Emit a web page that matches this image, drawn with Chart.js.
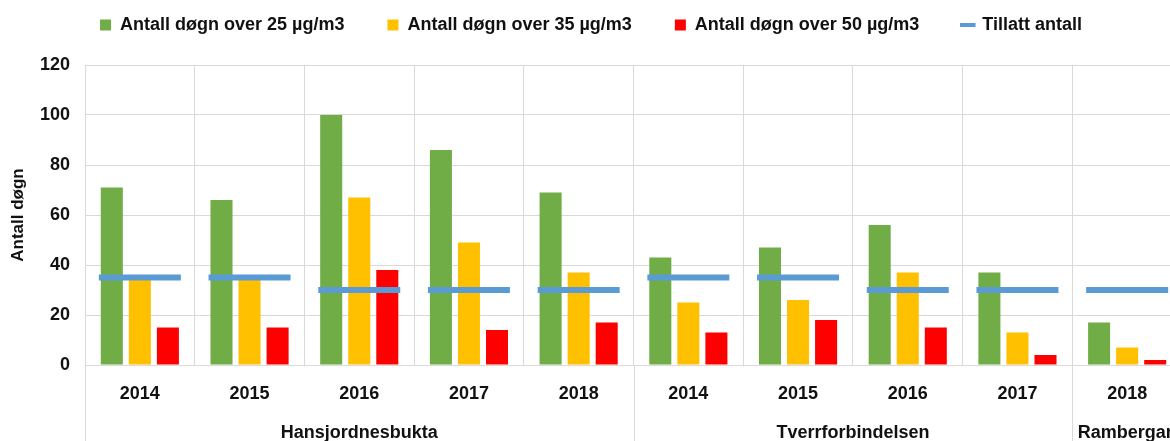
<!DOCTYPE html>
<html>
<head>
<meta charset="utf-8">
<script src="https://cdn.jsdelivr.net/npm/chart.js@4"></script>
<style>
    html, body { margin: 0; padding: 0; background: #fff; overflow: hidden; }
    #wrap { position: relative; width: 1182px; height: 460px; }
</style>
</head>
<body>
<div id="wrap"><canvas id="pmChart"></canvas></div>
<script>
var years = ['2014', '2015', '2016', '2017', '2018', '2014', '2015', '2016', '2017', '2018'];
var groupNames = ['Hansjordnesbukta', 'Tverrforbindelsen', 'Rambergan'];
var groupSizes = [5, 4, 1];
var seriesNames = ['Antall døgn over 25 µg/m3', 'Antall døgn over 35 µg/m3', 'Antall døgn over 50 µg/m3', 'Tillatt antall'];
var over25 = [71, 66, 100, 86, 69, 43, 47, 56, 37, 17];
var over35 = [35, 35, 67, 49, 37, 25, 26, 37, 13, 7];
var over50 = [15, 15, 38, 14, 17, 13, 18, 15, 4, 2];
var allowed = [35, 35, 30, 30, 30, 35, 35, 30, 30, 30];
var yTicks = [0, 20, 40, 60, 80, 100, 120];

var FONT = "'Liberation Sans', Arial, sans-serif";
Chart.defaults.font.family = FONT;
Chart.defaults.font.weight = 'bold';
Chart.defaults.font.size = 18;
Chart.defaults.color = '#111';

// the wide dash markers should not push the plot area in from the edges
Chart.LineController.prototype.getMaxOverflow = function() { return 0; };

// group labels under the years and the long separator lines
var groupLabels = {
    id: 'groupLabels',
    afterDraw: function(chart) {
        var xs = chart.scales.x;
        var area = chart.chartArea;
        var ctx = chart.ctx;
        var start = 0;
        ctx.save();
        ctx.strokeStyle = '#d9d9d9';
        ctx.lineWidth = 1;
        ctx.fillStyle = '#111';
        ctx.font = 'bold 18px ' + FONT;
        ctx.textAlign = 'center';
        ctx.textBaseline = 'middle';
        groupSizes.forEach(function(size, g) {
            var last = start + size - 1;
            var left = start === 0 ? area.left : (xs.getPixelForValue(start - 1) + xs.getPixelForValue(start)) / 2;
            var right = last + 1 < years.length ? (xs.getPixelForValue(last) + xs.getPixelForValue(last + 1)) / 2 : area.right;
            var lx = Math.round(left) + 0.5;
            ctx.beginPath();
            ctx.moveTo(lx, area.bottom);
            ctx.lineTo(lx, chart.height);
            ctx.stroke();
            ctx.fillText(groupNames[g], (left + right) / 2, area.bottom + 68);
            start += size;
        });
        ctx.restore();
    }
};

// fixed legend height so the plot starts at the right place
var legendHeight = {
    id: 'legendHeight',
    beforeInit: function(chart) {
        var fit = chart.legend.fit;
        chart.legend.fit = function() {
            fit.bind(chart.legend)();
            this.height = 92;
        };
    }
};

var ctx = document.getElementById('pmChart').getContext('2d');
var pmChart = new Chart(ctx, {
    type: 'bar',
    data: {
        labels: years,
        datasets: [{
            label: seriesNames[0],
            data: over25,
            backgroundColor: '#70AD47',
            pointStyle: 'rect',
            order: 1
        }, {
            label: seriesNames[1],
            data: over35,
            backgroundColor: '#FFC000',
            pointStyle: 'rect',
            order: 1
        }, {
            label: seriesNames[2],
            data: over50,
            backgroundColor: '#FF0000',
            pointStyle: 'rect',
            order: 1
        }, {
            type: 'line',
            label: seriesNames[3],
            data: allowed,
            showLine: false,
            borderColor: '#5B9BD5',
            backgroundColor: '#5B9BD5',
            pointStyle: 'line',
            pointRadius: 41,
            pointHoverRadius: 41,
            pointBorderWidth: 6,
            pointHoverBorderWidth: 6,
            order: 0
        }]
    },
    options: {
        responsive: true,
        maintainAspectRatio: false,
        animation: false,
        layout: { padding: { top: -27, left: 0, right: 0, bottom: 0 } },
        datasets: {
            bar: { categoryPercentage: 0.767, barPercentage: 0.786 }
        },
        plugins: {
            tooltip: { enabled: false },
            legend: {
                position: 'top',
                labels: {
                    usePointStyle: true,
                    boxWidth: 11,
                    boxHeight: 11,
                    padding: 43,
                    color: '#111',
                    font: { size: 18, weight: 'bold' },
                    sort: function(a, b) { return a.datasetIndex - b.datasetIndex; },
                    generateLabels: function(chart) {
                        var items = Chart.defaults.plugins.legend.labels.generateLabels(chart);
                        items.forEach(function(item) {
                            if (item.datasetIndex === 3) {
                                item.pointStyle = 'line';
                                item.lineWidth = 4;
                                item.strokeStyle = '#5B9BD5';
                            } else {
                                item.pointStyle = 'rect';
                                item.lineWidth = 0;
                            }
                        });
                        return items;
                    }
                }
            }
        },
        scales: {
            x: {
                grid: { color: '#d9d9d9', drawTicks: false, offset: true },
                border: { color: '#d9d9d9' },
                ticks: { padding: 18, font: { size: 18, weight: 'bold' }, maxRotation: 0 },
                afterFit: function(scale) { scale.height = 95; }
            },
            y: {
                min: 0,
                max: 120,
                afterBuildTicks: function(scale) {
                    scale.ticks = yTicks.map(function(v) { return { value: v }; });
                },
                grid: { color: '#d9d9d9', drawTicks: false },
                border: { color: '#d9d9d9' },
                ticks: { padding: 15, font: { size: 18, weight: 'bold' } },
                title: {
                    display: true,
                    text: 'Antall døgn',
                    font: { size: 17, weight: 'bold' },
                    padding: { top: 8, bottom: 0 }
                },
                afterFit: function(scale) { scale.width = 85; }
            }
        }
    },
    plugins: [legendHeight, groupLabels]
});
</script>
</body>
</html>
